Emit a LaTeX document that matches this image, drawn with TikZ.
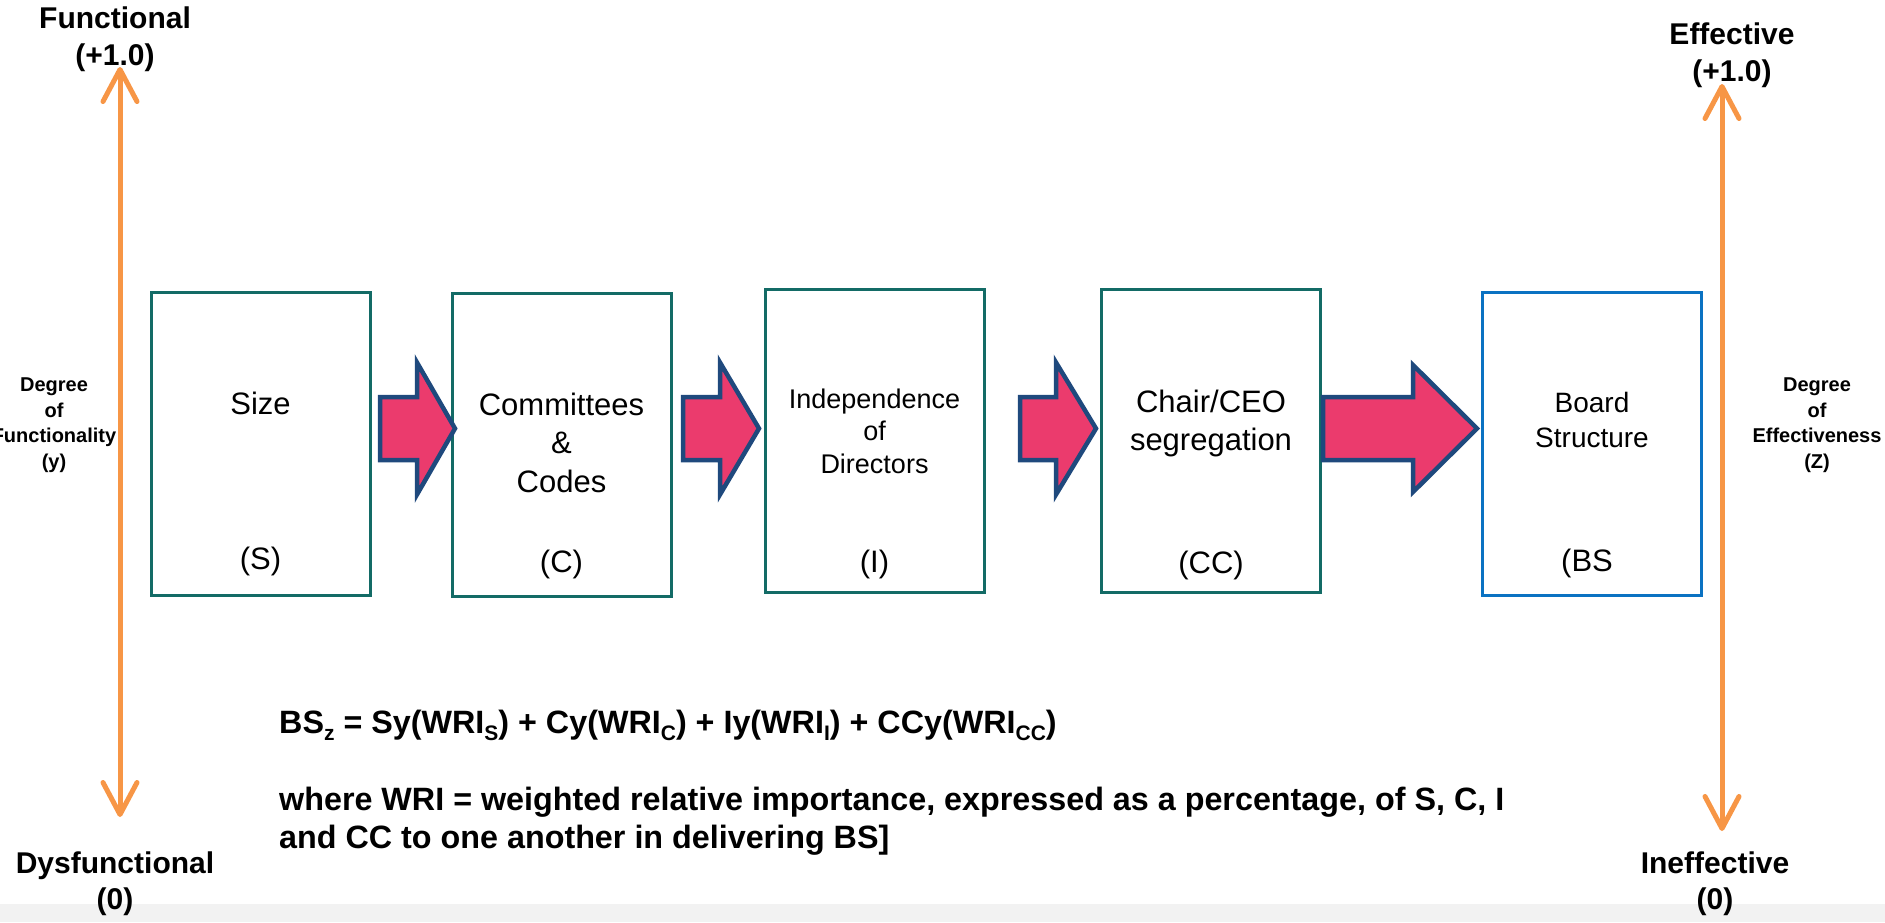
\documentclass[tikz,border=0pt]{standalone}
\usepackage{fontspec}
\setmainfont{Liberation Sans}
\usetikzlibrary{arrows.meta}

\definecolor{boxteal}{HTML}{136B66}
\definecolor{boxblue}{HTML}{0A72C2}
\definecolor{axisorange}{HTML}{F79646}
\definecolor{flowfill}{HTML}{EB3B6D}
\definecolor{flowedge}{HTML}{1F497D}
\definecolor{footgray}{HTML}{F2F2F2}

% font size and baseline skip, both in pt
\newcommand\fs[2]{\fontsize{#1pt}{#2pt}\selectfont}
% lowered, smaller index letters in the weighting formula
\newcommand\lowsub[1]{\raisebox{-7pt}{\fs{21}{21}#1}}
% block arrow: tail x, head base x, tip x, centre y, head half-height
\newcommand\flowarrow[5]{%
  \draw[flow] (#1,{#4-31.5}) -- (#2,{#4-31.5}) -- (#2,{#4-#5}) -- (#3,#4)
    -- (#2,{#4+#5}) -- (#2,{#4+31.5}) -- (#1,{#4+31.5}) -- cycle;}

\tikzset{
  stage/.style={draw=boxteal, line width=3pt, minimum width=219pt,
    minimum height=303pt, inner sep=0pt},
  outcome/.style={stage, draw=boxblue},
  flow/.style={fill=flowfill, draw=flowedge, line width=4.5pt, line join=miter},
  axis/.style={draw=axisorange, line width=5pt, line cap=round,
    {Straight Barb[length=32pt,width=34pt,round]}-{Straight Barb[length=32pt,width=34pt,round]}},
  % multi-line labels are placed by the baseline of their last line
  lbl/.style={inner sep=0pt, anchor=base, align=center, text=black},
}

\begin{document}
\begin{tikzpicture}[x=1pt, y=-1pt]
\useasboundingbox (0,0) rectangle (1885,922);
\fill[footgray] (0,904) rectangle (1885,922);

% vertical scales
\coordinate (ftop) at (120,67);
\coordinate (fbot) at (120,817);
\coordinate (etop) at (1722,84);
\coordinate (ebot) at (1722,831);
\draw[axis] (fbot) -- (ftop);
\draw[axis] (ebot) -- (etop);

\node[lbl, font=\bfseries\fs{30}{37}] (ftxt) at (115,65) {Functional\\(+1.0)};
\node[lbl, font=\bfseries\fs{30}{37}] (etxt) at (1732,81) {Effective\\(+1.0)};
\node[lbl, font=\bfseries\fs{30}{36}] (dtxt) at (115,909) {Dysfunctional\\(0)};
\node[lbl, font=\bfseries\fs{30}{36}] (itxt) at (1715,909) {Ineffective\\(0)};
\node[lbl, font=\bfseries\fs{20}{25.5}] (fdeg) at (54,468) {Degree\\of\\Functionality\\(y)};
\node[lbl, font=\bfseries\fs{20}{25.5}] (edeg) at (1817,468) {Degree\\of\\Effectiveness\\(Z)};

% board components
\node[stage] (bS) at (260.5,443.5) {};
\node[stage] (bC) at (561.5,444.5) {};
\node[stage] (bI) at (874.5,441) {};
\node[stage] (bCC) at (1211,441) {};
\node[outcome] (bBS) at (1591.5,444) {};

\node[lbl, font=\fs{31}{38}] (tS) at (260.5,414) {Size};
\node[lbl, font=\fs{31}{38.5}] (tC) at (561.5,492) {Committees\\\&\\Codes};
\node[lbl, font=\fs{27}{32.5}] (tI) at (874.5,473) {Independence\\of\\Directors};
\node[lbl, font=\fs{31}{38}] (tCC) at (1211,450) {Chair/CEO\\segregation};
\node[lbl, font=\fs{28}{35}] (tBS) at (1592,447) {Board\\Structure};

\node[lbl, font=\fs{31}{37}] (cS) at (260.5,569) {(S)};
\node[lbl, font=\fs{31}{37}] (cC) at (561.5,572) {(C)};
\node[lbl, font=\fs{31}{37}] (cI) at (874.5,572) {(I)};
\node[lbl, font=\fs{31}{37}] (cCC) at (1211,573) {(CC)};
\node[lbl, font=\fs{31}{37}] (cBS) at (1587,571) {(BS};

% flow between components
\flowarrow{380}{417}{455}{428.5}{66}
\flowarrow{683}{720}{759}{428.5}{66}
\flowarrow{1020}{1056}{1096}{428.5}{66}
\flowarrow{1323}{1413}{1477}{428.5}{63.5}

% weighting formula
\node[lbl, anchor=base west, align=left, font=\bfseries\fs{32.3}{37}] (eq) at (279,733)
  {BS\lowsub{z} = Sy(WRI\lowsub{S}) + Cy(WRI\lowsub{C}) + Iy(WRI\lowsub{I}) + CCy(WRI\lowsub{CC})};
\node[lbl, anchor=base west, align=left, font=\bfseries\fs{32.3}{38}] (note) at (279,848)
  {where WRI = weighted relative importance, expressed as a percentage, of S, C, I\\
   and CC to one another in delivering BS]};
\end{tikzpicture}
\end{document}
